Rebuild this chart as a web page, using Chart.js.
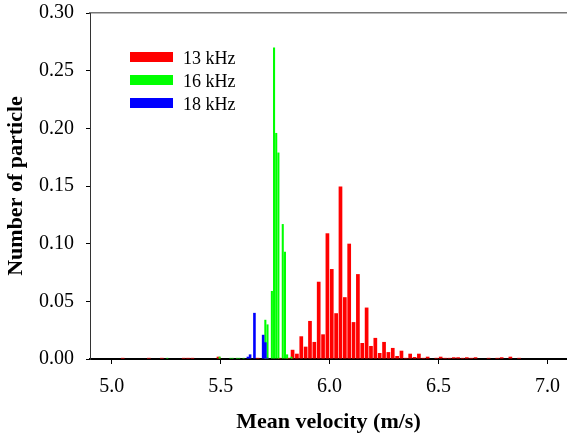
<!DOCTYPE html>
<html lang="en">
<head>
<meta charset="UTF-8">
<title>Mean velocity distribution</title>
<script src="https://cdn.jsdelivr.net/npm/chart.js"></script>
<style>
    body { margin: 0; padding: 0; background: #fff; overflow: hidden; }
    #chart-container { position: relative; width: 567px; height: 436px; }
</style>
</head>
<body>
<div id="chart-container">
    <canvas id="velocityChart"></canvas>
</div>
<script>
// bin centres (m/s) and fraction of particles
const redX = [5.05, 5.17, 5.23, 5.33, 5.35, 5.37, 5.49, 5.67, 5.71, 5.77, 5.81,
    5.83, 5.85, 5.87, 5.89, 5.91, 5.93, 5.95, 5.97, 5.99, 6.01, 6.03, 6.05, 6.07, 6.09, 6.11, 6.13,
    6.15, 6.17, 6.19, 6.21, 6.23, 6.25, 6.27, 6.29, 6.31, 6.33, 6.35, 6.37, 6.39, 6.41, 6.43, 6.45,
    6.49, 6.51, 6.53, 6.55, 6.57, 6.59, 6.61, 6.63, 6.65, 6.67, 6.73, 6.77, 6.79, 6.83, 6.87];
const redY = [0.001, 0.001, 0.001, 0.001, 0.001, 0.001, 0.002, 0.001, 0.001, 0.001, 0.001,
    0.008, 0.0046, 0.0197, 0.0107, 0.033, 0.0148, 0.067, 0.0214, 0.109, 0.078, 0.0397, 0.1496, 0.0536, 0.100, 0.032, 0.0736,
    0.0139, 0.0446, 0.0113, 0.0183, 0.0052, 0.0148, 0.006, 0.0096, 0.0026, 0.0072, 0.001, 0.0046, 0.0017, 0.0046, 0.001, 0.002,
    0.001, 0.002, 0.001, 0.001, 0.0015, 0.0015, 0.001, 0.0015, 0.001, 0.0015, 0.001, 0.001, 0.0015, 0.002, 0.001];

const greenX = [5.255, 5.495, 5.545, 5.555, 5.575, 5.585, 5.605, 5.705, 5.715, 5.735, 5.745, 5.755, 5.765, 5.785, 5.795, 5.805, 5.825];
const greenY = [0.001, 0.002, 0.001, 0.001, 0.001, 0.001, 0.001, 0.034, 0.030, 0.059, 0.270, 0.196, 0.179, 0.117, 0.093, 0.004, 0.002];

const blueX = [5.625, 5.635, 5.655, 5.695, 5.705, 5.715];
const blueY = [0.002, 0.004, 0.040, 0.021, 0.0145, 0.001];

const seriesLabels = ['13 kHz', '16 kHz', '18 kHz'];
const seriesColors = ['#ff0000', '#00ff00', '#0000ff'];

const xTicks = [5.0, 5.5, 6.0, 6.5, 7.0];
const yTicks = [0, 0.05, 0.10, 0.15, 0.20, 0.25, 0.30];

const serif = "'Liberation Serif', 'Times New Roman', serif";
const X_MIN = 4.9, X_MAX = 7.09;

function toPoints(xs, ys) {
    return xs.map((x, i) => ({ x: x, y: ys[i] }));
}

// legend sits inside the plot, top left
const insideLegend = {
    id: 'insideLegend',
    afterDraw(chart) {
        const { ctx, chartArea } = chart;
        const x0 = chartArea.left + 40;
        const y0 = chartArea.top + 39;
        ctx.save();
        ctx.font = '18px ' + serif;
        ctx.textBaseline = 'alphabetic';
        chart.data.datasets.forEach((ds, i) => {
            const y = y0 + i * 23;
            ctx.fillStyle = ds.backgroundColor;
            ctx.fillRect(x0, y, 43, 10);
            ctx.fillStyle = '#000';
            ctx.fillText(ds.label, x0 + 53, y + 12.3);
        });
        ctx.restore();
    }
};

function hiddenX() {
    return { type: 'linear', display: false, min: X_MIN, max: X_MAX, offset: false, grid: { offset: false } };
}

// keep the plot frame exactly where the figure has it
function noEdgePadding(scale) {
    scale.paddingTop = 0;
    scale.paddingBottom = 0;
    scale.paddingLeft = 0;
    scale.paddingRight = 0;
}

const ctx = document.getElementById('velocityChart').getContext('2d');
const velocityChart = new Chart(ctx, {
    type: 'bar',
    data: {
        datasets: [
            {
                label: seriesLabels[0],
                data: toPoints(redX, redY),
                backgroundColor: seriesColors[0],
                xAxisID: 'x',
                grouped: false,
                barPercentage: 0.85,
                categoryPercentage: 1,
                order: 3
            },
            {
                label: seriesLabels[1],
                data: toPoints(greenX, greenY),
                backgroundColor: seriesColors[1],
                xAxisID: 'xg',
                grouped: false,
                barPercentage: 0.95,
                categoryPercentage: 1,
                order: 2
            },
            {
                label: seriesLabels[2],
                data: toPoints(blueX, blueY),
                backgroundColor: seriesColors[2],
                xAxisID: 'xb',
                grouped: false,
                barPercentage: 1.2,
                categoryPercentage: 1,
                order: 1
            }
        ]
    },
    options: {
        responsive: true,
        maintainAspectRatio: false,
        animation: false,
        layout: { padding: { top: 13, left: 0, right: 0, bottom: 0 } },
        plugins: {
            legend: { display: false },
            tooltip: { enabled: false }
        },
        scales: {
            x: {
                type: 'linear',
                position: 'bottom',
                min: X_MIN,
                max: X_MAX,
                offset: false,
                afterBuildTicks: (scale) => { scale.ticks = xTicks.map(v => ({ value: v })); },
                afterFit: (scale) => { scale.height = 77; noEdgePadding(scale); },
                ticks: {
                    color: '#000',
                    font: { family: serif, size: 20 },
                    padding: 11,
                    maxRotation: 0,
                    autoSkip: false,
                    callback: (v) => Number(v).toFixed(1)
                },
                grid: { drawOnChartArea: false, offset: false, tickLength: 5, color: '#000' },
                border: { color: '#000', width: 2 },
                title: {
                    display: true,
                    text: 'Mean velocity (m/s)',
                    color: '#000',
                    font: { family: serif, size: 22, weight: 'bold' },
                    padding: { top: 0, bottom: 0 }
                }
            },
            xg: hiddenX(),
            xb: hiddenX(),
            xTop: {
                type: 'linear',
                position: 'top',
                min: X_MIN,
                max: X_MAX,
                offset: false,
                ticks: { display: false },
                grid: { display: false },
                border: { color: '#777', width: 1.5 },
                afterFit: (scale) => { scale.height = 0; noEdgePadding(scale); }
            },
            y: {
                type: 'linear',
                min: 0,
                max: 0.3,
                afterBuildTicks: (scale) => { scale.ticks = yTicks.map(v => ({ value: v })); },
                afterFit: (scale) => { scale.width = 90; noEdgePadding(scale); },
                ticks: {
                    color: '#000',
                    font: { family: serif, size: 20 },
                    padding: 12,
                    callback: (v) => Number(v).toFixed(2)
                },
                grid: { drawOnChartArea: false, tickLength: 4, color: '#000' },
                border: { color: '#333', width: 1 },
                title: {
                    display: true,
                    text: 'Number of particle',
                    color: '#000',
                    font: { family: serif, size: 22, weight: 'bold' },
                    padding: { top: 3, bottom: 0 }
                }
            }
        }
    },
    plugins: [insideLegend]
});
</script>
</body>
</html>
